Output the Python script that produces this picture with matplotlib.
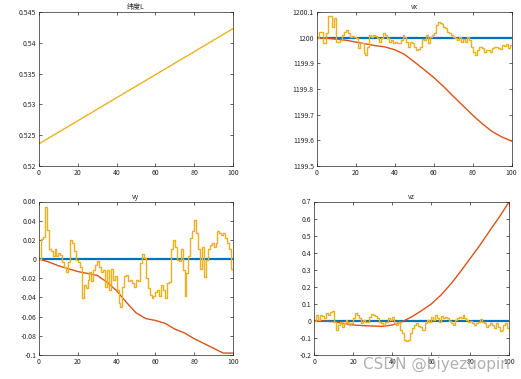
import matplotlib
matplotlib.use("Agg")
import matplotlib.pyplot as plt
from matplotlib.ticker import FuncFormatter, MultipleLocator

plt.rcParams['font.family'] = ['Noto Sans CJK SC', 'DejaVu Sans']

BLUE = '#0072BD'
RED = '#D95319'
YEL = '#EDB120'
TXT = '#262626'

# ---------------- data ----------------
t_meas = list(range(0, 101))
t_est = list(range(0, 101, 5))

# latitude L
lat_t = [0, 100]
lat_vals = [0.5236, 0.5423]

# vx
vx_true = [1200.0, 1200.0]
vx_est = [1200.000, 1199.998, 1199.994, 1199.990, 1199.983, 1199.976, 1199.969,
          1199.964, 1199.953, 1199.935, 1199.906, 1199.876, 1199.845, 1199.810,
          1199.772, 1199.735, 1199.698, 1199.664, 1199.634, 1199.613, 1199.597]
vx_meas = [1200.000, 1200.024, 1200.024, 1199.978, 1199.978, 1200.017, 1200.086, 1200.086,
           1200.043, 1200.076, 1199.984, 1199.984, 1199.991, 1200.010, 1200.024, 1200.030,
           1200.017, 1200.004, 1200.007, 1200.004, 1199.997, 1199.958, 1199.980, 1199.980,
           1199.939, 1199.932, 1199.965, 1200.010, 1200.004, 1200.010, 1200.007, 1199.997,
           1199.984, 1199.997, 1200.017, 1200.010, 1199.997, 1199.984, 1199.991, 1199.978,
           1199.984, 1199.978, 1199.978, 1199.991, 1200.010, 1200.004, 1199.984, 1199.965,
           1199.984, 1199.978, 1199.965, 1199.952, 1199.954, 1199.965, 1199.993, 1199.991,
           1200.010, 1199.978, 1200.004, 1200.010, 1200.017, 1200.050, 1200.060, 1200.056,
           1200.054, 1200.043, 1200.037, 1200.024, 1200.020, 1200.010, 1200.004, 1199.997,
           1199.991, 1200.004, 1199.984, 1199.993, 1199.984, 1200.001, 1199.991, 1199.965,
           1199.945, 1199.932, 1199.952, 1199.965, 1199.965, 1199.958, 1199.945, 1199.952,
           1199.952, 1199.945, 1199.958, 1199.965, 1199.965, 1199.958, 1199.954, 1199.971,
           1199.967, 1199.975, 1199.958, 1199.971, 1199.971]

# vy
vy_true = [0.0, 0.0]
vy_est = [0.000, -0.003, -0.007, -0.010, -0.013, -0.015, -0.017, -0.024, -0.033,
          -0.045, -0.056, -0.062, -0.064, -0.067, -0.073, -0.077, -0.083, -0.088,
          -0.093, -0.098, -0.098]
vy_meas = [0.000, 0.021, 0.023, 0.054, 0.030, 0.011, 0.008, 0.003, 0.010, 0.003,
           0.006, 0.004, -0.003, -0.008, -0.013, -0.003, 0.020, 0.017, 0.008, -0.001,
           -0.003, -0.008, -0.041, -0.027, -0.030, -0.022, -0.013, -0.023, -0.011, -0.006,
           -0.002, -0.008, -0.013, -0.011, -0.029, -0.011, -0.032, -0.010, -0.022, -0.018,
           -0.032, -0.046, -0.050, -0.029, -0.018, -0.017, -0.023, -0.022, -0.025, -0.029,
           -0.022, -0.023, -0.004, 0.005, 0.001, -0.020, -0.030, -0.037, -0.041, -0.038,
           -0.034, -0.032, -0.039, -0.027, -0.032, -0.041, -0.025, -0.024, 0.010, 0.020,
           0.013, -0.001, -0.002, 0.010, -0.011, -0.039, -0.015, 0.003, 0.022, 0.029,
           0.041, 0.027, 0.010, -0.010, 0.013, -0.019, -0.001, 0.011, 0.015, 0.017,
           0.013, 0.017, 0.029, 0.027, 0.025, 0.027, 0.022, 0.017, 0.011, -0.010, -0.013]

# vz
vz_true = [0.0, 0.0]
vz_est = [0.000, -0.001, -0.005, -0.015, -0.024, -0.028, -0.030, -0.032, -0.024,
          -0.005, 0.024, 0.060, 0.099, 0.152, 0.216, 0.289, 0.367, 0.445, 0.529,
          0.611, 0.700]
vz_meas = [0.000, 0.034, 0.005, 0.034, 0.028, 0.015, 0.044, 0.034, 0.054, 0.060,
           -0.005, -0.054, -0.024, -0.005, -0.034, -0.015, 0.005, -0.005, -0.024, -0.015,
           0.015, 0.044, 0.034, 0.015, -0.011, 0.005, -0.005, -0.005, 0.024, 0.040,
           0.034, 0.028, 0.015, -0.005, -0.011, -0.024, -0.005, -0.005, 0.015, 0.005,
           0.024, -0.015, -0.024, -0.005, -0.054, -0.073, -0.113, -0.116, -0.113, -0.073,
           -0.044, -0.024, -0.015, -0.030, -0.038, -0.054, -0.054, -0.015, 0.005, -0.005,
           0.024, 0.005, 0.034, 0.015, -0.005, 0.028, 0.015, 0.024, 0.015, 0.001,
           -0.011, -0.024, 0.005, 0.015, 0.024, 0.015, 0.034, 0.015, 0.005, -0.005,
           0.001, -0.015, -0.024, -0.011, -0.005, 0.009, -0.005, -0.015, -0.034, -0.024,
           -0.015, -0.024, -0.044, -0.011, -0.034, -0.058, -0.054, -0.024, -0.015, -0.044,
           -0.054]

# ---------------- figure ----------------
fig = plt.figure(figsize=(5.21, 3.79), dpi=100)
fig.patch.set_facecolor('white')

W, H = 521.0, 379.0
def pos(l, r, t, b):
    return [l / W, 1 - b / H, (r - l) / W, (b - t) / H]

ax_l = fig.add_axes(pos(39, 233, 12, 166))
ax_x = fig.add_axes(pos(316.7, 511.7, 12, 166))
ax_y = fig.add_axes(pos(39, 233, 201.5, 355))
ax_z = fig.add_axes(pos(314.3, 509.3, 201.5, 355))

FS = 5
fmt = FuncFormatter(lambda v, p: '%g' % (round(v, 6) + 0.0))

def style(ax, title, ylim, ystep):
    ax.set_xlim(0, 100)
    ax.set_ylim(*ylim)
    ax.xaxis.set_major_locator(MultipleLocator(20))
    ax.yaxis.set_major_locator(MultipleLocator(ystep))
    ax.yaxis.set_major_formatter(fmt)
    ax.tick_params(direction='in', length=2.5, width=0.5, labelsize=FS,
                   colors=TXT, top=True, right=True, pad=2)
    for s in ax.spines.values():
        s.set_linewidth(0.5)
        s.set_color(TXT)
    ax.set_title(title, fontsize=FS, color=TXT, pad=2)

# latitude
ax_l.plot(lat_t, lat_vals, color=YEL, lw=1.0)
style(ax_l, '纬度L', (0.52, 0.545), 0.005)

# vx
ax_x.plot([0, 100], vx_true, color=BLUE, lw=1.6)
ax_x.plot(t_est, vx_est, color=RED, lw=1.0)
ax_x.plot(t_meas, vx_meas, color=YEL, lw=1.0, drawstyle='steps-post')
style(ax_x, 'vx', (1199.5, 1200.1), 0.1)

# vy
ax_y.plot([0, 100], vy_true, color=BLUE, lw=1.6)
ax_y.plot(t_est, vy_est, color=RED, lw=1.0)
ax_y.plot(t_meas, vy_meas, color=YEL, lw=1.0, drawstyle='steps-post')
style(ax_y, 'vy', (-0.1, 0.06), 0.02)

# vz
ax_z.plot([0, 100], vz_true, color=BLUE, lw=1.6)
ax_z.plot(t_est, vz_est, color=RED, lw=1.0)
ax_z.plot(t_meas, vz_meas, color=YEL, lw=1.0, drawstyle='steps-post')
style(ax_z, 'vz', (-0.2, 0.7), 0.1)

# watermark
fig.text(510 / W, 1 - 372 / H, 'CSDN @biyezuopin', fontsize=11, color='#a8a8a8',
         ha='right', va='bottom', family=['DejaVu Sans'], alpha=0.9)

fig.savefig('out.png', dpi=100, facecolor='white')
